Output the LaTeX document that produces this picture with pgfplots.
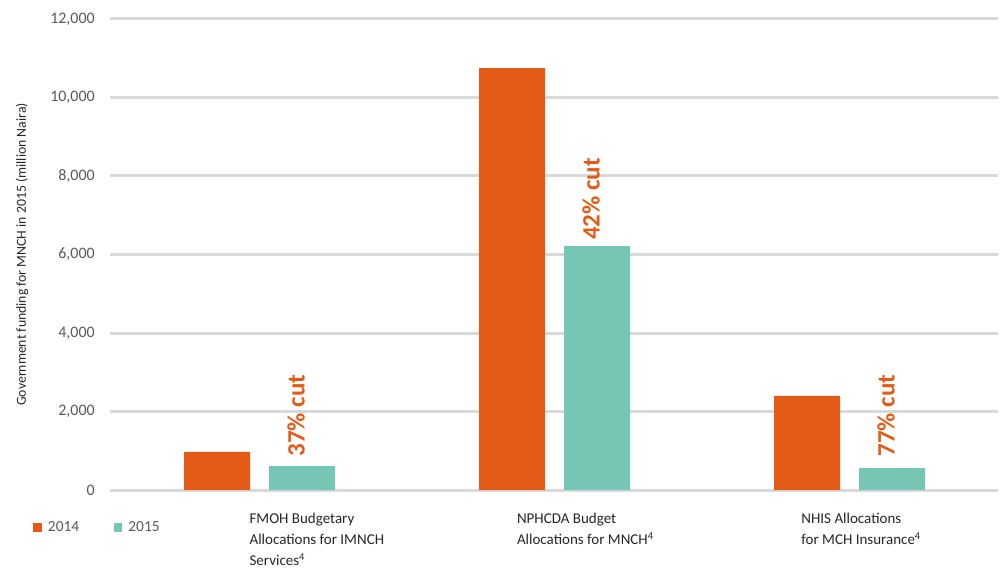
\documentclass[border=0pt]{standalone}
\usepackage{fontspec}
\setmainfont{Carlito}
\usepackage{pgfplots}
\pgfplotsset{compat=1.18}
\definecolor{orng}{HTML}{E35B17}
\definecolor{tealc}{HTML}{76C6B6}
\definecolor{gridc}{HTML}{D9D9D9}
\definecolor{txt}{HTML}{595959}
\definecolor{lab}{HTML}{262626}
\begin{document}
\begin{tikzpicture}
\begin{axis}[
 scale only axis, width=888pt, height=471pt,
 xmin=-0.507, xmax=2.503, ymin=0, ymax=12000,
 ybar=19pt, bar width=66pt,
 axis line style={draw=none}, tick style={draw=none},
 xtick=\empty,
 ytick={0,2000,...,12000},
 scaled y ticks=false,
 ymajorgrids, grid style={line width=3pt, gridc},
 yticklabel style={font=\fontsize{16}{19}\selectfont, text=txt, inner sep=0pt, xshift=-15pt,
   /pgf/number format/.cd, fixed, 1000 sep={,}, assume math mode=true},
 clip=false,
 legend columns=2,
 legend style={draw=none, fill=none, at={(-0.0864,-0.080)}, anchor=west, inner sep=0pt,
   font=\fontsize{15.4}{18}\selectfont, text=txt, column sep=6pt,
   nodes={inner sep=0pt},
   /tikz/every even column/.append style={column sep=34.7pt}},
]
\addplot[fill=orng, draw=none, legend image code/.code={\fill[orng] (0pt,-4.75pt) rectangle (8.5pt,4.75pt);}] coordinates {(0,970) (1,10750) (2,2395)};
\addplot[fill=tealc, draw=none, legend image code/.code={\fill[tealc] (0pt,-4.75pt) rectangle (8.5pt,4.75pt);}] coordinates {(0,610) (1,6215) (2,560)};
\legend{2014,2015}
\coordinate (bl) at (rel axis cs:0,0);
\coordinate (tr) at (rel axis cs:1,1);
\node[rotate=90, font=\fontsize{13.8}{16}\selectfont, text=lab] at (axis cs:-0.805,6000) {Government funding for MNCH in 2015 (million Naira)};
\node[rotate=90, anchor=west, inner sep=0pt, font=\fontsize{25}{30}\selectfont\bfseries, text=orng] at (axis cs:0.124,848) {37\% cut};
\node[rotate=90, anchor=west, inner sep=0pt, font=\fontsize{25}{30}\selectfont\bfseries, text=orng] at (axis cs:1.124,6369) {42\% cut};
\node[rotate=90, anchor=west, inner sep=0pt, font=\fontsize{25}{30}\selectfont\bfseries, text=orng] at (axis cs:2.124,848) {77\% cut};
\node[anchor=base west, align=left, inner sep=0pt, font=\fontsize{15}{21}\selectfont, text=lab] at (axis cs:-0.0346,-1936) {FMOH Budgetary\\Allocations for IMNCH\\Services\textsuperscript{4}};
\node[anchor=base west, align=left, inner sep=0pt, font=\fontsize{15}{21}\selectfont, text=lab] at (axis cs:0.872,-1401) {NPHCDA Budget\\Allocations for MNCH\textsuperscript{4}};
\node[anchor=base west, align=left, inner sep=0pt, font=\fontsize{15}{21}\selectfont, text=lab] at (axis cs:1.836,-1401) {NHIS Allocations\\for MCH Insurance\textsuperscript{4}};
\end{axis}
\pgfresetboundingbox
\path[use as bounding box] ([shift={(-110pt,-78pt)}]bl) rectangle ([shift={(6pt,19pt)}]tr);
\end{tikzpicture}
\end{document}
